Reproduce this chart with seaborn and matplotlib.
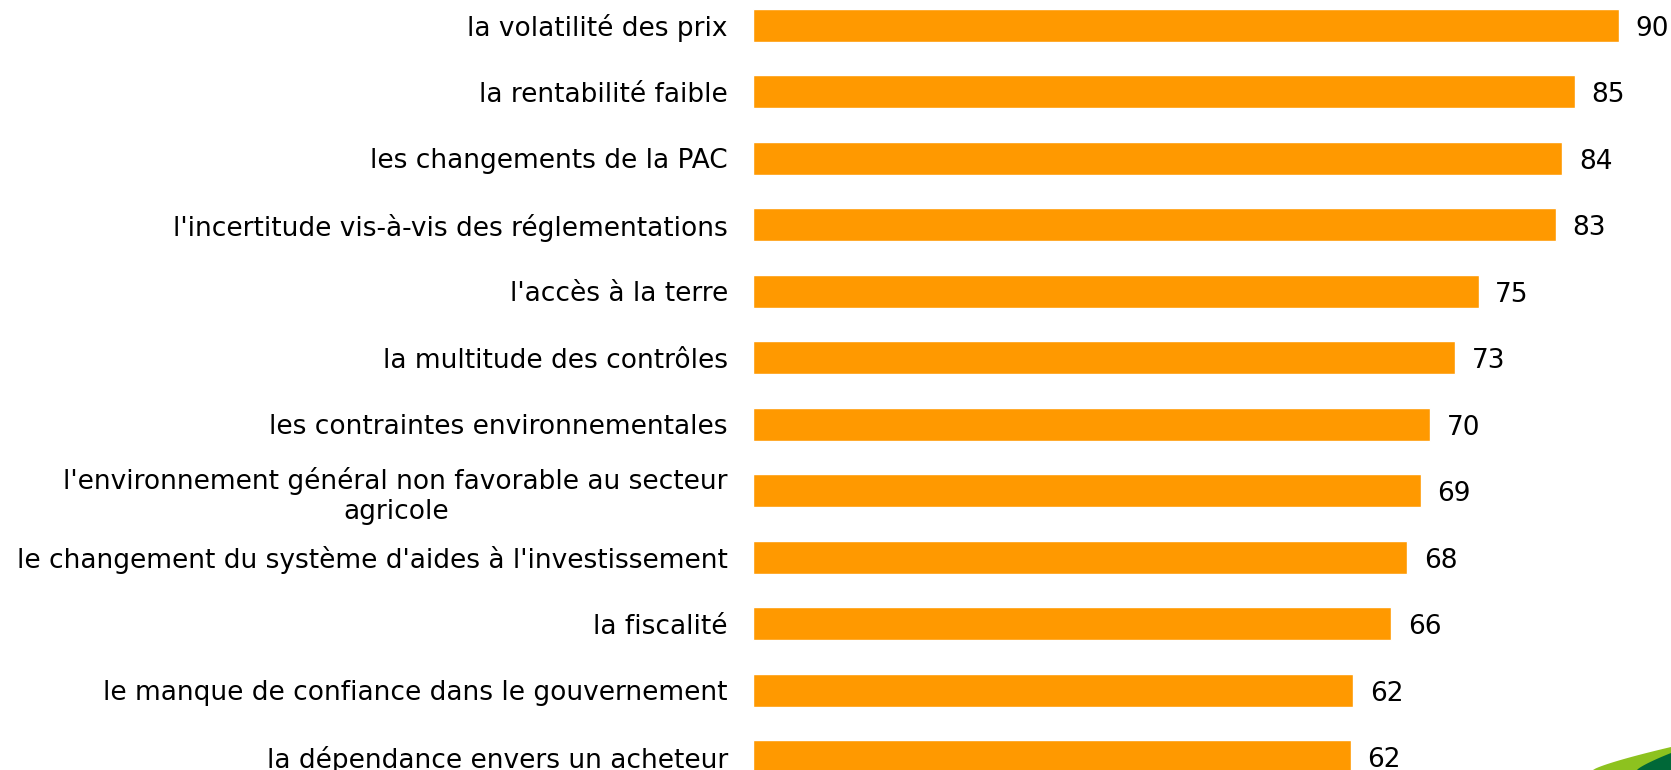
import matplotlib
matplotlib.use("Agg")
import matplotlib.pyplot as plt
from matplotlib.patches import Polygon
import numpy as np
import pandas as pd
import seaborn as sns

# DATA (labels show the rounded figure)
categories = [
    "la volatilité des prix",
    "la rentabilité faible",
    "les changements de la PAC",
    "l'incertitude vis-à-vis des réglementations",
    "l'accès à la terre",
    "la multitude des contrôles",
    "les contraintes environnementales",
    "l'environnement général non favorable au secteur\nagricole",
    "le changement du système d'aides à l'investissement",
    "la fiscalité",
    "le manque de confiance dans le gouvernement",
    "la dépendance envers un acheteur",
]
values = [90.0, 85.4, 84.1, 83.4, 75.4, 73.0, 70.4, 69.4, 68.0, 66.3, 62.4, 62.1]

bar_color = "#FF9900"

sns.set_theme(style="white")
plt.rcParams["font.family"] = ["DejaVu Sans"]

df = pd.DataFrame({"categorie": categories, "valeur": values})

fig = plt.figure(figsize=(16.71, 7.70), dpi=100)
ax = fig.add_axes([0.4506, 0.0, 0.5494, 1.0])

sns.barplot(data=df, y="categorie", x="valeur", color=bar_color, orient="h",
            width=0.5, saturation=1, ax=ax)

# value labels at the end of each bar, a touch below the centre like the original
for i, v in enumerate(values):
    ax.annotate(f"{v:.0f}", xy=(v, i), xytext=(12, -2.5), textcoords="offset points",
                ha="left", va="center", fontsize=19, color="black")

ax.set_xlim(0, 95.4)
ax.set_ylim(11.2, -0.38)
ax.set_xlabel("")
ax.set_ylabel("")
ax.set_xticks([])
sns.despine(ax=ax, left=True, bottom=True)
ax.tick_params(axis="y", length=0, pad=18, labelsize=19, labelcolor="black")
for lab in ax.get_yticklabels():
    lab.set_multialignment("center")

# green swoosh in the bottom right corner
xs = np.linspace(0, 1, 30)
light = [(1593 + 78 * t, 770 - 23 * t ** 0.8) for t in xs]
light += [(1671, 770), (1593, 770)]
dark = [(1637 + 34 * t, 770 - 17 * t ** 0.8) for t in xs]
dark += [(1671, 770), (1637, 770)]
for pts, col in [(light, "#8DC21F"), (dark, "#006838")]:
    pts = [(x / 1671, 1 - y / 770) for x, y in pts]
    fig.patches.append(Polygon(pts, closed=True, transform=fig.transFigure,
                               facecolor=col, edgecolor="none"))

fig.savefig("out.png", dpi=100)
plt.close(fig)
